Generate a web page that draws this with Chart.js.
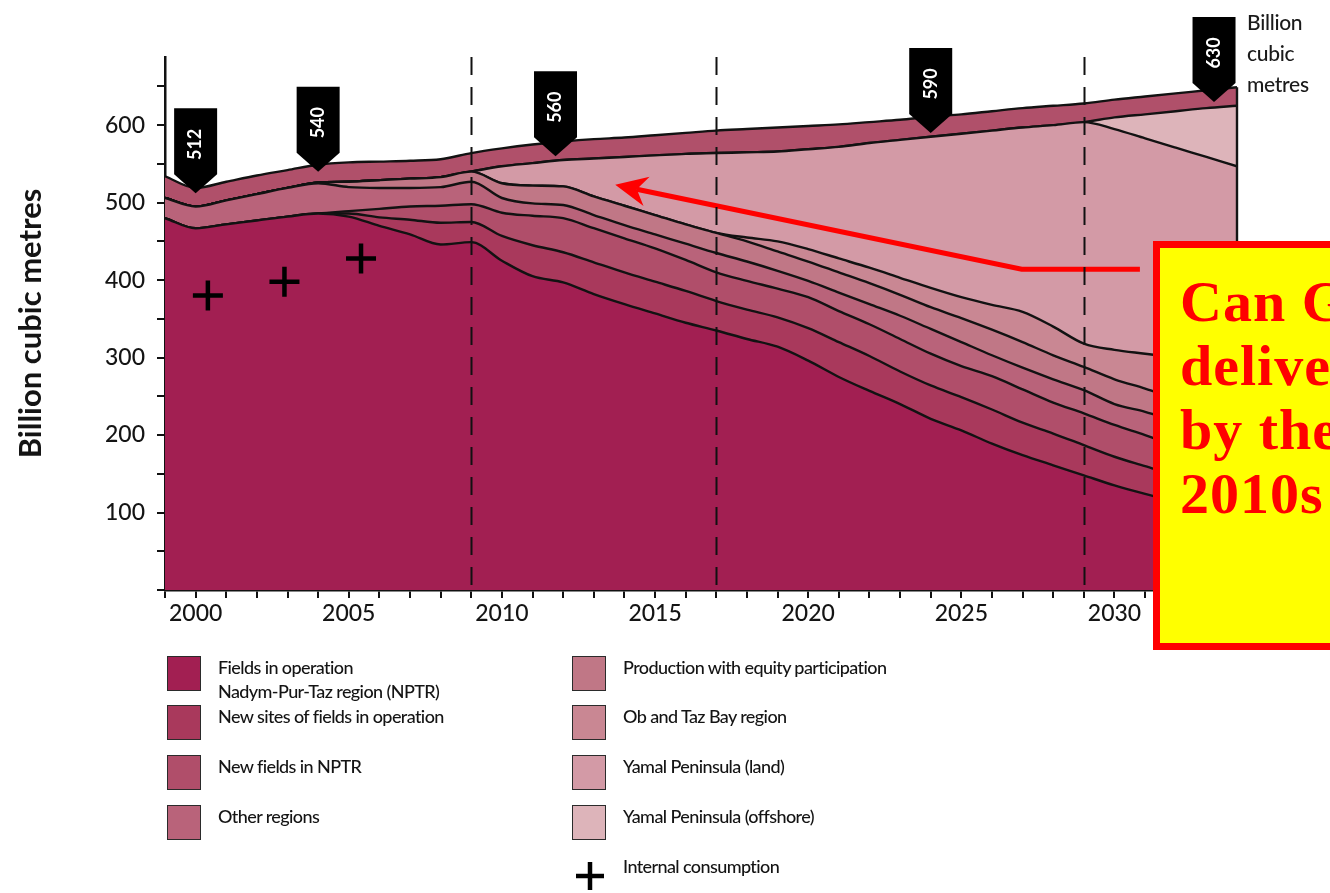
<!DOCTYPE html>
<html>
<head>
<meta charset="utf-8">
<title>Gas production outlook, billion cubic metres</title>
<script src="https://cdn.jsdelivr.net/npm/chart.js@4.4.1/dist/chart.umd.min.js"></script>
<style>
  html, body { margin: 0; padding: 0; background: #fff; width: 1330px; height: 893px; overflow: hidden; }
  #wrap { position: relative; width: 1330px; height: 893px; overflow: hidden; }
  #chart { position: absolute; left: 0; top: 0; }
  .unit { position: absolute; left: 1247px; top: 6px; font: 500 21px Lato, sans-serif; line-height: 31px; color: #1a1a1a; letter-spacing: -0.3px; }
  .legend { position: absolute; left: 0; top: 0; font: 500 18px Lato, sans-serif; letter-spacing: -0.6px; color: #141414; line-height: 24px; }
  .sw { position: absolute; width: 32px; height: 33px; border: 1.5px solid #2b2b2b; }
  .lt { position: absolute; white-space: nowrap; }
  .callout { position: absolute; left: 1153px; top: 241px; width: 420px; height: 395px; border: 7px solid #ff0000; background: #ffff00; }
  .callout div { padding: 22px 0 0 20px; font: bold 58px 'Liberation Serif', serif; line-height: 64px; color: #ff0000; white-space: nowrap; letter-spacing: 1px; }
</style>
</head>
<body>
<div id="wrap">
  <canvas id="chart" width="1330" height="893"></canvas>

  <div class="unit">Billion<br>cubic<br>metres</div>

  <div class="legend" id="legend"></div>

  <div class="callout"><div>Can Gazprom<br>deliver<br>by the<br>2010s</div></div>
</div>

<script>
// Years on the horizontal axis
const years = [1999, 2000, 2001, 2002, 2003, 2004, 2005, 2006, 2007, 2008, 2009,
               2010, 2011, 2012, 2013, 2014, 2015, 2016, 2017, 2018, 2019,
               2020, 2021, 2022, 2023, 2024, 2025, 2026, 2027, 2028, 2029,
               2030, 2031, 2032, 2033, 2034];

// Production by source, billion cubic metres (stacked bottom to top)
const fieldsInOperation   = [480, 467, 472, 477, 482, 486, 482, 470, 459, 446, 449,
                             425, 405, 397, 382, 369, 357, 345, 335, 324, 314,
                             296, 275, 257, 240, 221, 206, 189, 174, 161, 148,
                             135, 124, 114, 104, 95];
const newSites            = [0, 0, 0, 0, 0, 0, 4, 11, 19, 28, 26,
                             32, 40, 39, 41, 41, 41, 41, 38, 38, 38,
                             42, 45, 45, 42, 43, 43, 44, 42, 41, 39,
                             37, 36, 34, 33, 31];
const newFieldsNPTR       = [0, 0, 0, 0, 0, 0, 3, 11, 17, 22, 23,
                             30, 38, 44, 44, 44, 43, 40, 37, 37, 37,
                             40, 40, 41, 42, 41, 40, 43, 43, 40, 41,
                             41, 40, 38, 36, 35];
const otherRegions        = [26, 28, 31, 34, 37, 39, 31, 27, 24, 24, 29,
                             19, 16, 17, 17, 17, 18, 21, 25, 25, 23,
                             21, 24, 26, 30, 32, 31, 27, 28, 30, 30,
                             27, 30, 32, 34, 36];
const equityParticipation = [0, 0, 0, 0, 0, 1, 7, 10, 12, 13, 13,
                             19, 23, 24, 24, 25, 25, 25, 26, 26, 25,
                             25, 26, 27, 27, 28, 31, 33, 33, 31, 30,
                             32, 30, 29, 28, 26];
const obTazBay            = [0, 0, 0, 0, 0, 0, 0, 0, 0, 0, 0,
                             0, 0, 0, 0, 0, 0, 0, 0, 5, 13,
                             16, 18, 20, 22, 25, 27, 32, 39, 37, 30,
                             38, 45, 53, 61, 69];
const yamalLand           = [0, 0, 0, 0, 0, 0, 0, 0, 0, 0, 0,
                             22, 29, 34, 49, 63, 77, 91, 103, 110, 116,
                             129, 144, 161, 178, 195, 211, 225, 238, 260, 286,
                             285, 278, 271, 263, 255];
const yamalOffshore       = [0, 0, 0, 0, 0, 0, 0, 0, 0, 0, 0,
                             0, 0, 0, 0, 0, 0, 0, 0, 0, 0,
                             0, 0, 0, 0, 0, 0, 0, 0, 0, 0,
                             15, 31, 47, 63, 78];
const upperBand           = [28, 24, 24, 24, 23, 23, 25, 24, 23, 23, 24,
                             23, 24, 24, 25, 25, 26, 27, 29, 30, 31,
                             30, 29, 27, 26, 26, 25, 25, 25, 25, 24,
                             23, 23, 23, 23, 24];

// Internal consumption
const consumptionYears = [2000.4, 2002.9, 2005.4];
const consumption      = [380, 398, 428];

// Total output call-outs
const totalYears  = [2000, 2004, 2011.75, 2024, 2033.25];
const totalValues = [512, 540, 560, 590, 630];

// Period dividers
const dividerYears = [2009, 2017, 2029];

// Pointer from the question box into the Yamal area: [year, value]
const pointerPath = [[2030.83, 414], [2026.97, 414], [2013.7, 523]];

const seriesNames = [
  'Fields in operation Nadym-Pur-Taz region (NPTR)',
  'New sites of fields in operation',
  'New fields in NPTR',
  'Other regions',
  'Production with equity participation',
  'Ob and Taz Bay region',
  'Yamal Peninsula (land)',
  'Yamal Peninsula (offshore)',
  'Additional volumes'
];
const seriesData = [fieldsInOperation, newSites, newFieldsNPTR, otherRegions,
                    equityParticipation, obTazBay, yamalLand, yamalOffshore, upperBand];
const palette = ['#a21f52', '#a9395c', '#b04e6a', '#b9637a', '#c07786',
                 '#c98793', '#d39aa6', '#ddb4ba', '#b0506a'];

// ---- legend (two columns, first eight series plus consumption) ----
(function buildLegend() {
  const host = document.getElementById('legend');
  const rows = [656, 705, 755, 805];
  const cols = [{ sw: 167, tx: 218 }, { sw: 572, tx: 623 }];
  const names = [
    'Fields in operation<br>Nadym-Pur-Taz region (NPTR)',
    'New sites of fields in operation',
    'New fields in NPTR',
    'Other regions',
    'Production with equity participation',
    'Ob and Taz Bay region',
    'Yamal Peninsula (land)',
    'Yamal Peninsula (offshore)'
  ];
  let html = '';
  names.forEach((n, i) => {
    const c = cols[Math.floor(i / 4)], r = rows[i % 4];
    html += '<div class="sw" style="left:' + c.sw + 'px;top:' + r + 'px;background:' + palette[i] + '"></div>';
    html += '<div class="lt" style="left:' + c.tx + 'px;top:' + (r - 1) + 'px">' + n + '</div>';
  });
  html += '<svg style="position:absolute;left:575px;top:861px" width="30" height="30">' +
          '<line x1="15" y1="1" x2="15" y2="29" stroke="#000" stroke-width="4.5"/>' +
          '<line x1="1" y1="15" x2="29" y2="15" stroke="#000" stroke-width="4.5"/></svg>';
  html += '<div class="lt" style="left:623px;top:854px">Internal consumption</div>';
  host.innerHTML = html;
})();

// ---- overlays drawn on the chart canvas ----
const overlays = {
  id: 'overlays',
  afterDatasetsDraw(chart) {
    const { ctx, chartArea, scales: { x, y } } = chart;
    ctx.save();

    // closing edge of the stacked area at the last year
    const last = years.length - 1;
    const lastTotal = seriesData.reduce((s, a) => s + a[last], 0);
    ctx.strokeStyle = '#151515';
    ctx.lineWidth = 2.4;
    ctx.beginPath();
    ctx.moveTo(x.getPixelForValue(years[last]), y.getPixelForValue(0));
    ctx.lineTo(x.getPixelForValue(years[last]), y.getPixelForValue(lastTotal));
    ctx.stroke();

    // red pointer
    const pts = pointerPath.map(p => ({ x: x.getPixelForValue(p[0]), y: y.getPixelForValue(p[1]) }));
    const tip = pts[pts.length - 1], prev = pts[pts.length - 2];
    const dx = prev.x - tip.x, dy = prev.y - tip.y, len = Math.hypot(dx, dy);
    const ux = dx / len, uy = dy / len, nx = -uy, ny = ux;
    const notch = { x: tip.x + ux * 22, y: tip.y + uy * 22 };
    ctx.strokeStyle = '#ff0000';
    ctx.fillStyle = '#ff0000';
    ctx.lineWidth = 5;
    ctx.lineJoin = 'miter';
    ctx.beginPath();
    ctx.moveTo(pts[0].x, pts[0].y);
    for (let i = 1; i < pts.length - 1; i++) ctx.lineTo(pts[i].x, pts[i].y);
    ctx.lineTo(notch.x, notch.y);
    ctx.stroke();
    ctx.beginPath();
    ctx.moveTo(tip.x, tip.y);
    ctx.lineTo(tip.x + ux * 32 + nx * 15, tip.y + uy * 32 + ny * 15);
    ctx.lineTo(notch.x, notch.y);
    ctx.lineTo(tip.x + ux * 32 - nx * 15, tip.y + uy * 32 - ny * 15);
    ctx.closePath();
    ctx.fill();

    // dashed period dividers
    ctx.strokeStyle = '#111';
    ctx.lineWidth = 2;
    ctx.setLineDash([18, 12]);
    dividerYears.forEach(yr => {
      const px = Math.round(x.getPixelForValue(yr)) + 0.5;
      ctx.beginPath();
      ctx.moveTo(px, chartArea.top);
      ctx.lineTo(px, chartArea.bottom);
      ctx.stroke();
    });
    ctx.setLineDash([]);

    // black flag call-outs with the total volume
    const hw = 21.5, bodyH = 66, tipH = 19;
    totalYears.forEach((yr, i) => {
      const px = x.getPixelForValue(yr), py = y.getPixelForValue(totalValues[i]);
      ctx.fillStyle = '#000';
      ctx.beginPath();
      ctx.moveTo(px - hw, py - tipH - bodyH);
      ctx.lineTo(px + hw, py - tipH - bodyH);
      ctx.lineTo(px + hw, py - tipH);
      ctx.lineTo(px, py);
      ctx.lineTo(px - hw, py - tipH);
      ctx.closePath();
      ctx.fill();
      ctx.save();
      ctx.translate(px, py - tipH - bodyH / 2 + 3);
      ctx.rotate(-Math.PI / 2);
      ctx.fillStyle = '#fff';
      ctx.font = 'bold 18px Lato, sans-serif';
      ctx.textAlign = 'center';
      ctx.textBaseline = 'middle';
      ctx.fillText(String(totalValues[i]), 0, 0);
      ctx.restore();
    });

    ctx.restore();
  }
};

Chart.defaults.font.family = "Lato, 'Noto Sans', sans-serif";
Chart.defaults.color = '#141414';

const datasets = seriesData.map((d, i) => ({
  type: 'line',
  label: seriesNames[i],
  data: d,
  backgroundColor: palette[i],
  borderColor: '#121212',
  borderWidth: 2.4,
  pointRadius: 0,
  fill: i === 0 ? 'origin' : '-1',
  cubicInterpolationMode: 'monotone',
  stack: 'production'
}));

datasets.push({
  type: 'scatter',
  label: 'Internal consumption',
  data: consumptionYears.map((yr, i) => ({ x: yr, y: consumption[i] })),
  pointStyle: 'cross',
  radius: 15,
  borderWidth: 4.5,
  borderColor: '#000',
  backgroundColor: '#000',
  stack: 'consumption',
  order: -1
});

new Chart(document.getElementById('chart'), {
  type: 'line',
  data: { labels: years, datasets },
  options: {
    responsive: false,
    animation: false,
    devicePixelRatio: 1,
    layout: { padding: { left: 0, top: 57, right: 93, bottom: 263 } },
    plugins: { legend: { display: false }, tooltip: { enabled: false } },
    scales: {
      x: {
        type: 'linear',
        min: 1999,
        max: 2034,
        afterFit(s) { s.height = 40; },
        grid: { drawOnChartArea: false, drawTicks: true, tickLength: 8, color: '#111', lineWidth: 2 },
        border: { display: true, color: '#111', width: 2.5 },
        ticks: {
          stepSize: 1,
          autoSkip: false,
          maxRotation: 0,
          padding: 2,
          font: { size: 23, weight: '500' },
          color: '#141414',
          callback: v => (v % 5 === 0 ? String(v) : '')
        }
      },
      y: {
        stacked: true,
        min: 0,
        max: 688,
        afterFit(s) { s.width = 165; },
        grid: { drawOnChartArea: false, drawTicks: true, tickLength: 8, color: '#111', lineWidth: 2 },
        border: { display: true, color: '#111', width: 2.5 },
        ticks: {
          stepSize: 50,
          includeBounds: false,
          padding: 12,
          font: { size: 23, weight: '500' },
          color: '#141414',
          callback: v => (v > 0 && v <= 600 && v % 100 === 0 ? String(v) : '')
        },
        title: {
          display: true,
          text: 'Billion cubic metres',
          font: { size: 31, weight: 'bold' },
          color: '#141414',
          padding: { top: 12, bottom: 0 }
        }
      }
    }
  },
  plugins: [overlays]
});
</script>
</body>
</html>
